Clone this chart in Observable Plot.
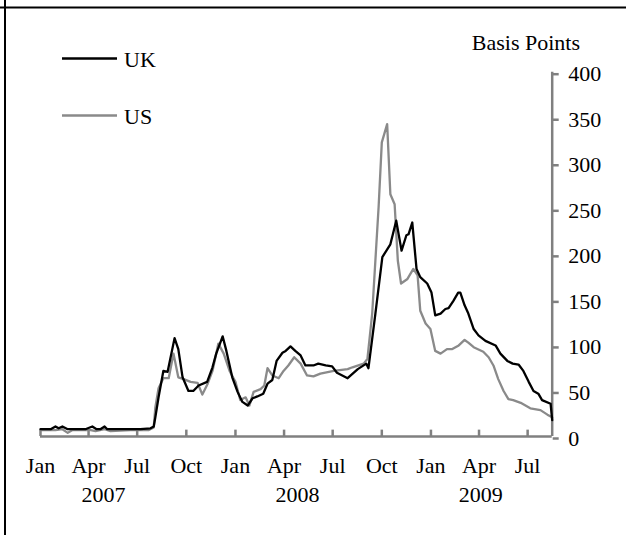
<!DOCTYPE html>
<html>
<head>
<meta charset="utf-8">
<script src="https://cdn.jsdelivr.net/npm/d3@7"></script>
<script src="https://cdn.jsdelivr.net/npm/@observablehq/plot@0.6"></script>
<style>
  html, body { margin: 0; padding: 0; background: white; }
</style>
</head>
<body>
<div id="chart"></div>
<script>
// ---- data ----
const seriesNames = ["UK", "US"];

const ukDates = ["2007-01-01","2007-01-20","2007-01-29","2007-02-04","2007-02-11","2007-02-21","2007-03-08","2007-03-26","2007-04-08","2007-04-16","2007-04-23","2007-05-01","2007-05-06","2007-05-31","2007-07-07","2007-07-26","2007-08-01","2007-08-04","2007-08-10","2007-08-19","2007-08-27","2007-09-09","2007-09-16","2007-09-24","2007-10-05","2007-10-14","2007-10-24","2007-11-09","2007-11-19","2007-11-26","2007-12-08","2007-12-15","2007-12-26","2008-01-05","2008-01-14","2008-01-24","2008-02-02","2008-02-11","2008-02-22","2008-03-01","2008-03-10","2008-03-18","2008-03-29","2008-04-04","2008-04-13","2008-04-22","2008-05-02","2008-05-11","2008-05-26","2008-06-04","2008-06-18","2008-06-30","2008-07-09","2008-07-29","2008-08-17","2008-09-02","2008-09-06","2008-09-19","2008-10-02","2008-10-17","2008-10-28","2008-11-07","2008-11-16","2008-11-20","2008-11-27","2008-12-05","2008-12-12","2008-12-25","2009-01-02","2009-01-09","2009-01-19","2009-01-28","2009-02-03","2009-02-12","2009-02-21","2009-02-25","2009-03-05","2009-03-12","2009-03-22","2009-03-31","2009-04-13","2009-05-02","2009-05-11","2009-05-24","2009-06-03","2009-06-14","2009-06-23","2009-07-03","2009-07-12","2009-07-21","2009-07-28","2009-08-13","2009-08-16"];
const ukValues = [8,8,11,9,11,8,8,8,11,8,8,11,8,8,8,9,11,21,43,72,71,108,96,65,50,50,56,60,76,91,110,94,65,49,38,34,42,44,47,58,62,83,92,94,99,94,89,78,78,80,78,77,70,64,74,80,75,135,197,211,237,204,221,222,235,184,175,168,158,133,135,140,141,149,158,158,144,135,118,111,105,100,91,83,80,79,72,60,50,47,40,36,18];

const usDates = ["2007-01-01","2007-01-29","2007-02-11","2007-02-21","2007-03-02","2007-04-05","2007-04-14","2007-05-01","2007-05-12","2007-06-18","2007-07-22","2007-08-01","2007-08-04","2007-08-10","2007-08-19","2007-08-29","2007-09-07","2007-09-16","2007-09-26","2007-10-09","2007-10-22","2007-10-31","2007-11-10","2007-11-19","2007-11-30","2007-12-10","2007-12-21","2008-01-01","2008-01-10","2008-01-20","2008-01-27","2008-02-04","2008-02-17","2008-02-24","2008-03-01","2008-03-10","2008-03-22","2008-03-31","2008-04-09","2008-04-20","2008-05-02","2008-05-14","2008-05-26","2008-06-08","2008-07-03","2008-07-29","2008-08-07","2008-08-28","2008-09-04","2008-09-13","2008-09-25","2008-10-01","2008-10-11","2008-10-17","2008-10-25","2008-10-31","2008-11-06","2008-11-18","2008-11-29","2008-12-07","2008-12-12","2008-12-22","2008-12-31","2009-01-09","2009-01-19","2009-01-31","2009-02-10","2009-02-22","2009-03-05","2009-03-12","2009-03-22","2009-04-09","2009-04-19","2009-04-28","2009-05-07","2009-05-17","2009-05-26","2009-06-04","2009-06-18","2009-06-27","2009-07-06","2009-07-25","2009-08-07","2009-08-16"];
const usValues = [7,7,8,4,7,7,6,8,6,7,7,10,32,53,64,64,91,65,63,60,59,46,58,72,102,91,72,60,40,43,34,49,52,56,75,67,64,72,78,87,80,67,66,69,72,74,76,80,85,135,252,323,343,266,255,193,168,173,184,177,138,124,118,94,91,96,96,100,106,103,98,93,87,78,63,50,41,40,37,34,31,29,24,21];

const xStart = "2007-01-01";
const xEnd = "2009-08-16";
const tickDates = ["2007-01-01","2007-04-01","2007-07-01","2007-10-01","2008-01-01","2008-04-01","2008-07-01","2008-10-01","2009-01-01","2009-04-01","2009-07-01"];
const monthLabels = ["Jan","Apr","Jul","Oct","Jan","Apr","Jul","Oct","Jan","Apr","Jul"];
const yearLabels = ["2007","2008","2009"];
const yearLabelDates = ["2007-04-29","2008-04-26","2009-04-04"];
const yTicks = [0,50,100,150,200,250,300,350,400];
const yUnitLabel = "Basis Points";

// ---- build ----
const parse = d3.utcParse("%Y-%m-%d");
const uk = ukDates.map((d, i) => ({date: parse(d), v: ukValues[i]}));
const us = usDates.map((d, i) => ({date: parse(d), v: usValues[i]}));
const ticks = tickDates.map(parse);
const years = yearLabelDates.map((d, i) => ({date: parse(d), label: yearLabels[i]}));

const axisGrey = "#808080";
const usGrey = "#8a8a8a";
const font = "'Liberation Serif', 'Times New Roman', serif";

const W = 626, H = 535;
const chart = Plot.plot({
  width: W,
  height: H,
  marginLeft: 40,
  marginRight: 74.3,
  marginTop: 71.7,
  marginBottom: 99,
  style: {fontFamily: font, fontSize: "22px", color: "black", background: "white", overflow: "visible"},
  x: {type: "utc", domain: [parse(xStart), parse(xEnd)], axis: null},
  y: {domain: [0, 400], axis: null},
  marks: [
    Plot.ruleX(ticks, {x: d => d, y1: 0, y2: 7, stroke: axisGrey, strokeWidth: 2.5}),
    Plot.ruleY([0], {stroke: axisGrey, strokeWidth: 2.5}),
    Plot.ruleX([parse(xEnd)], {y1: 0, y2: 400, stroke: axisGrey, strokeWidth: 2.5}),
    Plot.axisY(yTicks, {anchor: "right", tickSize: 6, tickPadding: 10, stroke: axisGrey, strokeWidth: 2.5, fill: "black", fontSize: 22, dy: 2, tickFormat: d => String(d), label: null}),
    Plot.line(us, {x: "date", y: "v", stroke: usGrey, strokeWidth: 2.3}),
    Plot.line(uk, {x: "date", y: "v", stroke: "black", strokeWidth: 2.3}),
    Plot.text(ticks, {x: d => d, text: (d, i) => monthLabels[i], frameAnchor: "bottom", dy: 29, lineAnchor: "middle", fill: "black", fontSize: 22}),
    Plot.text(years, {x: "date", text: "label", frameAnchor: "bottom", dy: 58, lineAnchor: "middle", fill: "black", fontSize: 22})
  ]
});

document.getElementById("chart").appendChild(chart);

// ---- decorations: frame, unit label, legend ----
const svg = d3.select(chart);
svg.append("line").attr("x1", 0).attr("x2", W).attr("y1", 7.5).attr("y2", 7.5)
  .attr("stroke", "black").attr("stroke-width", 2);
svg.append("line").attr("x1", 5).attr("x2", 5).attr("y1", 0).attr("y2", H)
  .attr("stroke", "black").attr("stroke-width", 2);

svg.append("text").attr("x", 580).attr("y", 50).attr("text-anchor", "end")
  .attr("font-family", font).attr("font-size", 22).attr("fill", "black").text(yUnitLabel);

const legendColors = ["black", usGrey];
seriesNames.forEach((name, i) => {
  const y = 58.5 + i * 57;
  svg.append("line").attr("x1", 62).attr("x2", 117).attr("y1", y).attr("y2", y)
    .attr("stroke", legendColors[i]).attr("stroke-width", 2.3);
  svg.append("text").attr("x", 124).attr("y", y + 8).attr("text-anchor", "start")
    .attr("font-family", font).attr("font-size", 22).attr("fill", "black").text(name);
});
</script>
</body>
</html>
